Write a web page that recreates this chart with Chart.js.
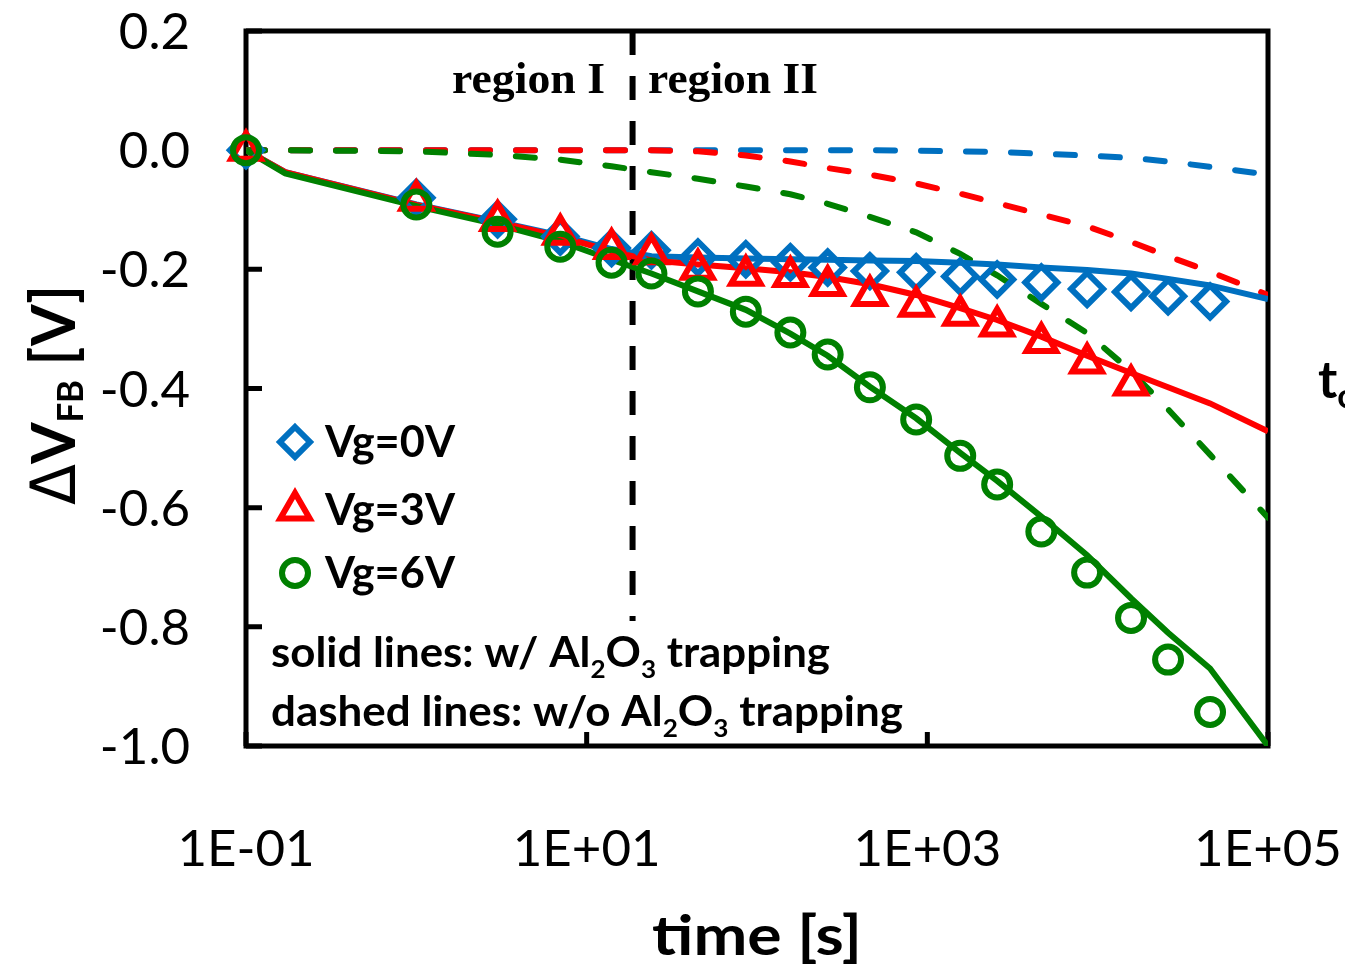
<!DOCTYPE html>
<html>
<head>
<meta charset="utf-8">
<script src="https://cdn.jsdelivr.net/npm/chart.js@4.4.0/dist/chart.umd.min.js"></script>
<style>
  html, body { margin: 0; padding: 0; background: #fff; }
  #wrap { width: 1345px; height: 970px; }
</style>
</head>
<body>
<div id="wrap"><canvas id="c" width="1345" height="970"></canvas></div>
<script>
// --- measured data (time in s, dVfb in V) ---
const times = [0.1, 1, 3, 7, 14, 24, 45, 86, 157, 260, 460, 860, 1560, 2570, 4670, 8670, 15700, 25900, 45700];
const vg0 = [0, -0.080, -0.116, -0.145, -0.164, -0.168, -0.180, -0.183, -0.188, -0.197, -0.203, -0.205, -0.212, -0.217, -0.222, -0.233, -0.238, -0.245, -0.254];
const vg3 = [0, -0.084, -0.118, -0.141, -0.165, -0.174, -0.200, -0.210, -0.212, -0.227, -0.244, -0.262, -0.277, -0.295, -0.323, -0.357, -0.394];
const vg6 = [0, -0.091, -0.137, -0.162, -0.189, -0.207, -0.237, -0.271, -0.306, -0.343, -0.398, -0.452, -0.513, -0.561, -0.640, -0.709, -0.785, -0.855, -0.943];

// --- model curves ---
const fitTimes = [0.1, 0.17, 1, 3, 7, 14, 24, 45, 86, 157, 260, 460, 860, 1560, 2570, 4670, 8670, 15700, 25900, 45700, 100000];
// solid: w/ Al2O3 trapping
const solid0 = [0, -0.037, -0.091, -0.120, -0.143, -0.166, -0.178, -0.180, -0.182, -0.183, -0.184, -0.185, -0.186, -0.189, -0.192, -0.197, -0.201, -0.207, -0.216, -0.227, -0.250];
const solid3 = [0, -0.037, -0.092, -0.121, -0.145, -0.170, -0.185, -0.192, -0.198, -0.205, -0.213, -0.225, -0.243, -0.265, -0.285, -0.313, -0.345, -0.374, -0.398, -0.425, -0.472];
const solid6 = [0, -0.039, -0.094, -0.125, -0.153, -0.184, -0.207, -0.237, -0.268, -0.308, -0.345, -0.397, -0.450, -0.508, -0.555, -0.615, -0.680, -0.752, -0.810, -0.870, -1.000];
// dashed: w/o Al2O3 trapping
const dash0 = [0, 0, 0, 0, 0, 0, 0, 0, 0, 0, 0, 0, -0.001, -0.002, -0.003, -0.006, -0.009, -0.013, -0.019, -0.028, -0.041];
const dash3 = [0, 0, 0, 0, 0, 0, 0, -0.002, -0.009, -0.019, -0.030, -0.041, -0.056, -0.073, -0.089, -0.108, -0.128, -0.154, -0.178, -0.204, -0.243];
const dash6 = [0, 0, -0.002, -0.008, -0.016, -0.027, -0.037, -0.048, -0.061, -0.074, -0.090, -0.112, -0.138, -0.174, -0.210, -0.258, -0.307, -0.371, -0.435, -0.511, -0.617];

// region I / II boundary
const boundaryTime = 18.6;
const boundaryY = [0.2, -0.79];

const seriesNames = ['Vg=0V', 'Vg=3V', 'Vg=6V'];
const xTickValues = [0.1, 10, 1000, 100000];
const xTickLabels = ['1E-01', '1E+01', '1E+03', '1E+05'];
const yTickValues = [0.2, 0.0, -0.2, -0.4, -0.6, -0.8, -1.0];

const BLUE = '#0070C0', RED = '#FF0000', GREEN = '#008000';

const pts = (xs, ys) => ys.map((v, i) => ({ x: xs[i], y: v }));

function markerSet(label, data, color, style, radius, order) {
    return {
        label: label, data: pts(times, data), showLine: false,
        pointStyle: style, pointRadius: radius, pointBorderWidth: 6,
        pointBorderColor: color, pointBackgroundColor: 'rgba(0,0,0,0)',
        order: order, clip: false
    };
}
function lineSet(data, color, dashed, order) {
    return {
        label: '', data: pts(fitTimes, data), showLine: true, pointRadius: 0,
        borderColor: color, borderWidth: 6, borderDash: dashed ? [19, 26] : [],
        borderCapStyle: dashed ? 'round' : 'butt', tension: 0, order: order
    };
}

// text helper: parts drawn side by side, optionally squeezed to a target width
function drawParts(ctx, parts, x, y, align, targetW) {
    let total = 0;
    const ws = parts.map(p => {
        ctx.font = `${p.weight || 'bold'} ${p.size}px ${p.family || 'Lato'}`;
        const w = ctx.measureText(p.t).width;
        total += w;
        return w;
    });
    const sx = targetW ? targetW / total : 1;
    const w = total * sx;
    const x0 = align === 'center' ? x - w / 2 : (align === 'right' ? x - w : x);
    ctx.save();
    ctx.translate(x0, y);
    ctx.scale(sx, 1);
    ctx.textAlign = 'left';
    ctx.textBaseline = 'alphabetic';
    let cx = 0;
    parts.forEach((p, i) => {
        ctx.font = `${p.weight || 'bold'} ${p.size}px ${p.family || 'Lato'}`;
        ctx.fillText(p.t, cx, p.dy || 0);
        cx += ws[i];
    });
    ctx.restore();
}

function drawMarker(ctx, style, x, y, r, color) {
    ctx.save();
    ctx.strokeStyle = color; ctx.lineWidth = 6;
    ctx.beginPath();
    if (style === 'rectRot') {
        ctx.moveTo(x, y - r); ctx.lineTo(x + r, y); ctx.lineTo(x, y + r); ctx.lineTo(x - r, y); ctx.closePath();
    } else if (style === 'triangle') {
        for (let k = 0; k < 3; k++) {
            const a = k * 2 * Math.PI / 3;
            const px = x + Math.sin(a) * r, py = y - Math.cos(a) * r;
            k === 0 ? ctx.moveTo(px, py) : ctx.lineTo(px, py);
        }
        ctx.closePath();
    } else {
        ctx.arc(x, y, r, 0, Math.PI * 2);
    }
    ctx.stroke();
    ctx.restore();
}

const frame = {
    id: 'frame',
    beforeDatasetsDraw(chart) {
        const { ctx, chartArea: a, scales: { x, y } } = chart;
        ctx.save();
        ctx.strokeStyle = '#000';
        ctx.lineWidth = 5;
        ctx.strokeRect(a.left, a.top, a.right - a.left, a.bottom - a.top);
        ctx.beginPath();
        yTickValues.forEach(v => {
            const py = y.getPixelForValue(v);
            ctx.moveTo(a.left, py); ctx.lineTo(a.left + 16, py);
        });
        xTickValues.forEach(v => {
            const px = x.getPixelForValue(v);
            ctx.moveTo(px, a.bottom); ctx.lineTo(px, a.bottom - 14);
        });
        ctx.stroke();
        ctx.restore();
    },
    afterDraw(chart) {
        const { ctx, scales: { x, y } } = chart;
        ctx.save();
        ctx.fillStyle = '#000';
        // tick labels
        yTickValues.forEach(v => {
            drawParts(ctx, [{ t: v.toFixed(1), size: 51, weight: 'normal' }], 190, y.getPixelForValue(v) + 18, 'right');
        });
        xTickValues.forEach((v, i) => {
            drawParts(ctx, [{ t: xTickLabels[i], size: 51, weight: 'normal' }], x.getPixelForValue(v), 866, 'center');
        });
        // axis titles
        drawParts(ctx, [{ t: 'time [s]', size: 56 }], 757, 955, 'center', 210);
        ctx.save();
        ctx.translate(75, 395);
        ctx.rotate(-Math.PI / 2);
        drawParts(ctx, [
            { t: '\u0394', size: 62, weight: 'normal', family: 'DejaVu Sans' },
            { t: 'V', size: 62 },
            { t: 'FB', size: 36, dy: 8 },
            { t: ' [V]', size: 62 }
        ], 0, 0, 'center', 220);
        ctx.restore();
        // region labels
        drawParts(ctx, [{ t: 'region I', size: 44, family: '"Liberation Serif"' }], 452, 93, 'left', 153);
        drawParts(ctx, [{ t: 'region II', size: 44, family: '"Liberation Serif"' }], 648, 93, 'left', 170);
        // legend
        const styles = ['rectRot', 'triangle', 'circle'];
        const radii = [15, 17, 13];
        const colors = [BLUE, RED, GREEN];
        const ly = [442, 510, 573];
        seriesNames.forEach((n, i) => {
            drawMarker(ctx, styles[i], 295, ly[i], radii[i], colors[i]);
            drawParts(ctx, [{ t: n, size: 43 }], 325, ly[i] + 15, 'left', 130);
        });
        // annotation
        drawParts(ctx, [
            { t: 'solid lines: w/ Al', size: 42 }, { t: '2', size: 25, dy: 11 },
            { t: 'O', size: 42 }, { t: '3', size: 25, dy: 11 }, { t: ' trapping', size: 42 }
        ], 271, 667, 'left', 559);
        drawParts(ctx, [
            { t: 'dashed lines: w/o Al', size: 42 }, { t: '2', size: 25, dy: 11 },
            { t: 'O', size: 42 }, { t: '3', size: 25, dy: 11 }, { t: ' trapping', size: 42 }
        ], 271, 726, 'left', 632);
        // cut-off label at the right edge
        drawParts(ctx, [{ t: 't', size: 52 }, { t: 'o', size: 34, dy: 10 }], 1318, 398, 'left');
        ctx.restore();
    }
};

const ctx = document.getElementById('c').getContext('2d');
new Chart(ctx, {
    type: 'scatter',
    data: {
        datasets: [
            markerSet(seriesNames[2], vg6, GREEN, 'circle', 13, 1),
            markerSet(seriesNames[1], vg3, RED, 'triangle', 17, 2),
            markerSet(seriesNames[0], vg0, BLUE, 'rectRot', 16, 3),
            lineSet(solid6, GREEN, false, 4),
            lineSet(solid3, RED, false, 5),
            lineSet(solid0, BLUE, false, 6),
            lineSet(dash6, GREEN, true, 7),
            lineSet(dash3, RED, true, 8),
            lineSet(dash0, BLUE, true, 9),
            {
                label: '', data: boundaryY.map(v => ({ x: boundaryTime, y: v })), showLine: true,
                pointRadius: 0, borderColor: '#000', borderWidth: 6, borderDash: [24, 21], order: 10
            }
        ]
    },
    options: {
        responsive: false,
        animation: false,
        layout: { padding: { top: 31, right: 77, left: 0, bottom: 0 } },
        plugins: { legend: { display: false }, tooltip: { enabled: false } },
        scales: {
            x: {
                type: 'logarithmic', min: 0.1, max: 100000,
                grid: { display: false }, border: { display: false },
                ticks: { display: false },
                afterFit: s => { s.height = 224; }
            },
            y: {
                type: 'linear', min: -1.0, max: 0.2,
                grid: { display: false }, border: { display: false },
                ticks: { display: false },
                afterFit: s => { s.width = 246; }
            }
        }
    },
    plugins: [frame]
});
</script>
</body>
</html>
